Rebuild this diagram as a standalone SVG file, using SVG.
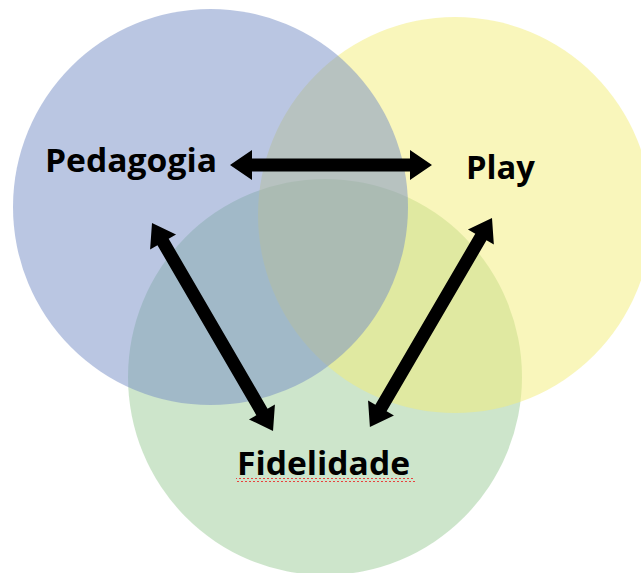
<svg xmlns="http://www.w3.org/2000/svg" width="641" height="573" viewBox="0 0 641 573">
  <style>
    .lbl { font-family: "Open Sans", "Liberation Sans", sans-serif; font-weight: 700; font-size: 32px; fill: #000; }
    .circ { fill-opacity: 0.5; stroke: none; }
    .arr { fill: #000; }
  </style>
  <defs>
    <pattern id="squiggle" x="0" y="0" width="4" height="4" patternUnits="userSpaceOnUse">
      <path d="M0 3 L2 1 L4 3" fill="none" stroke="#e8423f" stroke-width="1"/>
    </pattern>
  </defs>
  <rect width="641" height="573" fill="#ffffff"/>
  <g id="fidelidade">
    <ellipse class="circ" cx="325" cy="377" rx="197" ry="198" fill="#9BCB97"/>
  </g>
  <g id="play">
    <ellipse class="circ" cx="455" cy="215" rx="197" ry="198" fill="#F3ED77"/>
  </g>
  <g id="pedagogia">
    <ellipse class="circ" cx="210.5" cy="207" rx="197.5" ry="198" fill="#758DC5"/>
  </g>
  <g id="labels">
    <text class="lbl" x="45" y="172" textLength="172" lengthAdjust="spacingAndGlyphs">Pedagogia</text>
    <text class="lbl" x="466" y="179" textLength="69" lengthAdjust="spacingAndGlyphs">Play</text>
    <text class="lbl" x="237" y="475" textLength="173" lengthAdjust="spacingAndGlyphs">Fidelidade</text>
    <rect x="236" y="478" width="179" height="4" fill="url(#squiggle)"/>
  </g>
  <g id="connectors">
    <path class="arr" transform="translate(230,165)" d="M0 0 L22 -15 L22 -6.5 L180 -6.5 L180 -15 L202 0 L180 15 L180 6.5 L22 6.5 L22 15 Z"/>
    <path class="arr" transform="translate(152,223) rotate(59.8)" d="M0 0 L22 -15 L22 -6.5 L218.6 -6.5 L218.6 -15 L240.6 0 L218.6 15 L218.6 6.5 L22 6.5 L22 15 Z"/>
    <path class="arr" transform="translate(492,218) rotate(120.3)" d="M0 0 L22 -15 L22 -6.5 L220 -6.5 L220 -15 L242 0 L220 15 L220 6.5 L22 6.5 L22 15 Z"/>
  </g>
</svg>
